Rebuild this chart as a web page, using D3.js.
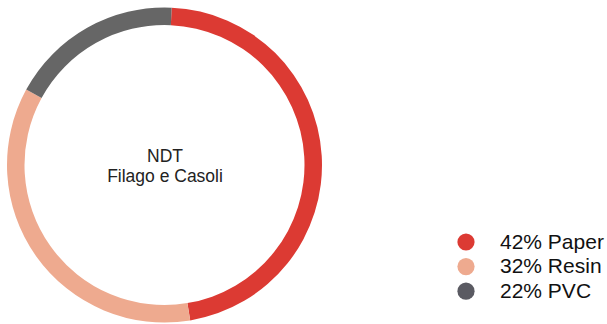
<!DOCTYPE html>
<html>
<head>
<meta charset="utf-8">
<script src="https://cdn.jsdelivr.net/npm/d3@7"></script>
<style>
  html, body { margin: 0; padding: 0; background: #ffffff; }
  svg { display: block; }
  text { font-family: "Liberation Sans", Arial, Helvetica, sans-serif; }
</style>
</head>
<body>
<svg id="chart" width="607" height="324"></svg>
<script>
// Material shares
const categories = ["Paper", "Resin", "PVC"];
const values = [42, 32, 22];
const centerLines = ["NDT", "Filago e Casoli"];

// Full turn of the ring corresponds to this value
const angleMax = 90;

const ringColors = ["#dc3a33", "#eeaa8f", "#666666"];
const dotColors = ["#dc3a33", "#eeaa8f", "#5a5a62"];

const svg = d3.select("#chart");
const cx = 164.5, cy = 165, rOuter = 157.5, rInner = 140;
const startOffset = 2.6 * Math.PI / 180;

const angle = d3.scaleLinear()
  .domain([0, angleMax])
  .range([0, 2 * Math.PI])
  .clamp(true);

const ends = Array.from(d3.cumsum(values));
const slices = values.map((v, i) => ({
  name: categories[i],
  value: v,
  startAngle: startOffset + angle(i === 0 ? 0 : ends[i - 1]),
  endAngle: startOffset + angle(ends[i])
}));

const arc = d3.arc().innerRadius(rInner).outerRadius(rOuter);

const ring = svg.append("g").attr("transform", `translate(${cx},${cy})`);
ring.selectAll("path")
  .data(slices)
  .join("path")
  .attr("d", arc)
  .attr("fill", (d, i) => ringColors[i]);

// Title in the middle of the ring
ring.append("text")
  .attr("text-anchor", "middle")
  .attr("fill", "#222")
  .attr("font-size", 17.5)
  .selectAll("tspan")
  .data(centerLines)
  .join("tspan")
  .attr("x", 0.5)
  .attr("y", (d, i) => -3 + i * 20)
  .text(d => d);

// Legend
const legend = svg.append("g").attr("transform", "translate(466,242)");
const rows = legend.selectAll("g")
  .data(slices)
  .join("g")
  .attr("transform", (d, i) => `translate(0,${i * 24.6})`);
rows.append("circle")
  .attr("r", 8.6)
  .attr("fill", (d, i) => dotColors[i]);
rows.append("text")
  .attr("x", 34)
  .attr("y", 6.8)
  .attr("font-size", 21)
  .attr("fill", "#111")
  .text(d => `${d.value}% ${d.name}`);
</script>
</body>
</html>
